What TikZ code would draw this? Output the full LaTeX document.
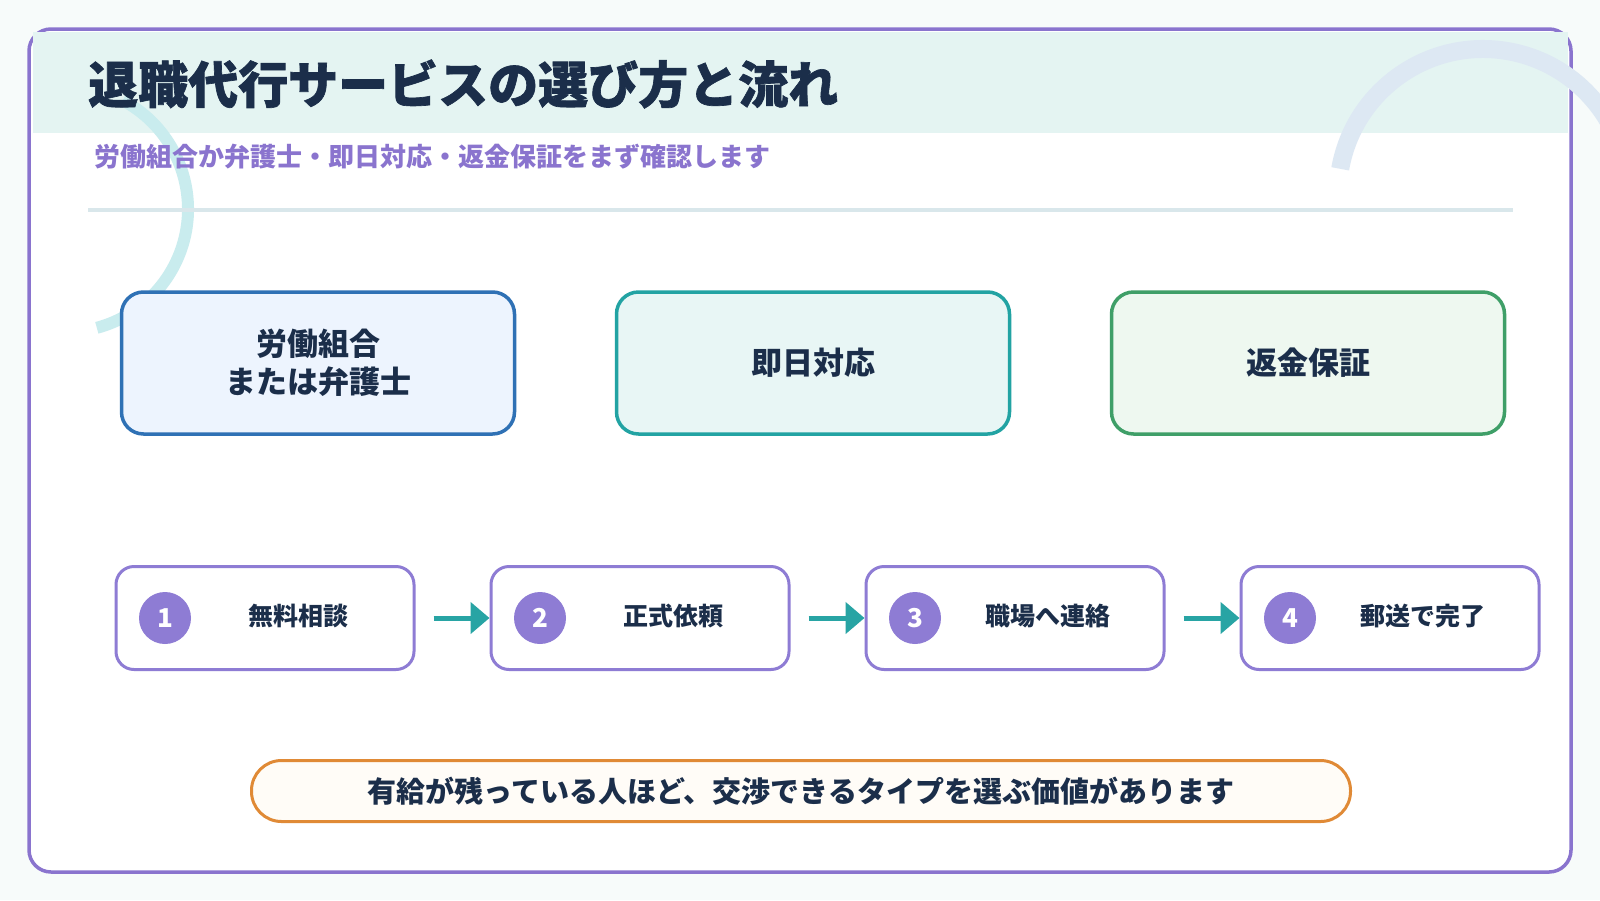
\documentclass[tikz,border=0pt]{standalone}
\usepackage{fontspec}
\setmainfont{Noto Sans CJK JP}
\newfontfamily\heavyfont{Noto Sans CJK JP}[BoldFeatures={FakeBold=1.3}]
\usepackage{tikz}
\usetikzlibrary{arrows.meta,positioning,calc}
\definecolor{navy}{HTML}{1B2E4A}
\definecolor{framec}{HTML}{8A74CE}
\definecolor{dotc}{HTML}{8E7CD4}
\definecolor{bandc}{HTML}{E4F4F2}
\definecolor{arcteal}{HTML}{C9ECEE}
\definecolor{arcblue}{HTML}{DDE8F3}
\definecolor{rulec}{HTML}{D9E7EB}
\definecolor{bluec}{HTML}{2F71B5}
\definecolor{bluef}{HTML}{EDF4FE}
\definecolor{tealc}{HTML}{22A3A3}
\definecolor{tealf}{HTML}{E8F6F5}
\definecolor{greenc}{HTML}{3F9F68}
\definecolor{greenf}{HTML}{EEF8F0}
\definecolor{arrowc}{HTML}{28A4A4}
\definecolor{orangec}{HTML}{E08A36}
\definecolor{orangef}{HTML}{FFFCF7}
\definecolor{pagec}{HTML}{F7FBFA}

\begin{document}
\begin{tikzpicture}[x=1pt,y=-1pt,
 topbox/.style={draw,line width=3.5pt,rounded corners=22pt,minimum width=393pt,minimum height=142pt,align=center,text=navy,font=\fontsize{31}{38}\selectfont\bfseries},
 stepbox/.style={draw=dotc,line width=3pt,rounded corners=18pt,fill=white,minimum width=298pt,minimum height=103pt},
 numdot/.style={circle,fill=dotc,minimum size=52pt,inner sep=0pt,text=white,font=\fontsize{26}{26}\selectfont\bfseries},
 steplbl/.style={text=navy,font=\fontsize{25}{30}\selectfont\bfseries},
 flowarrow/.style={draw=arrowc,line width=5pt,-{Triangle[length=19pt,width=31pt]},shorten <=18pt}]
\useasboundingbox (0,0) rectangle (1600,900);
\fill[pagec] (0,0) rectangle (1600,900);
% frame and header band
\draw[framec,line width=3.5pt,fill=white,rounded corners=22pt] (29,29) rectangle (1571,872);
\fill[bandc] (32.5,32) rectangle (1568,133);
\draw[arcteal,line width=12pt] (65,209) ++(-62:123) arc[start angle=-62,end angle=75,radius=123];
\draw[arcblue,line width=18pt] (1483,194) ++(-170:145) arc[start angle=-170,end angle=-10,radius=145];
\draw[rulec,line width=4pt] (88,210) -- (1513,210);
\node[anchor=west,inner sep=0pt,text=navy,font=\heavyfont\fontsize{50}{58}\selectfont\bfseries] (title) at (88,84) {退職代行サービスの選び方と流れ};
\node[anchor=west,inner sep=0pt,text=framec,font=\fontsize{26}{30}\selectfont\bfseries] (subtitle) at (94,157) {労働組合か弁護士・即日対応・返金保証をまず確認します};
% three checks
\node[topbox,draw=bluec,fill=bluef] (union) at (318,363) {労働組合\\または弁護士};
\node[topbox,draw=tealc,fill=tealf] (sameday) at (813,363) {即日対応};
\node[topbox,draw=greenc,fill=greenf] (refund) at (1308,363) {返金保証};
% steps
\foreach \i/\t in {1/無料相談,2/正式依頼,3/職場へ連絡,4/郵送で完了}{
 \node[stepbox] (s\i) at (265+375*\i-375,618) {};
 \node[numdot] (n\i) at ($(s\i.center)+(-100,0)$) {\i};
 \node[steplbl] (t\i) at ($(s\i.center)+(33,-2)$) {\t};}
\foreach \i/\j in {1/2,2/3,3/4}
 \draw[flowarrow] (s\i.east) -- (s\j.west);
\node[draw=orangec,fill=orangef,line width=3pt,rounded corners=30pt,minimum width=1099pt,minimum height=61pt,text=navy,font=\fontsize{29}{34}\selectfont\bfseries] (tip) at (801,791) {有給が残っている人ほど、交渉できるタイプを選ぶ価値があります};
\end{tikzpicture}
\end{document}
